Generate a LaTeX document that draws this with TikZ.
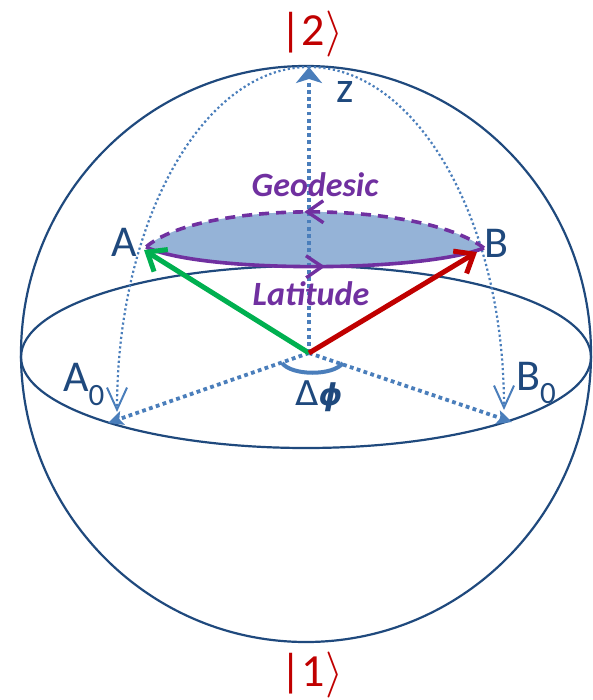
\RequirePackage{fix-cm}
\documentclass[tikz,border=0pt]{standalone}
\usepackage{fontspec}
\setmainfont{Carlito}
\newfontfamily\phifont{DejaVu Sans}
\usepackage{amsmath}
\usetikzlibrary{arrows.meta,decorations.markings}
\definecolor{sph}{RGB}{31,73,125}
\definecolor{axb}{RGB}{74,126,187}
\definecolor{lensc}{RGB}{149,179,215}
\definecolor{purp}{RGB}{112,48,160}
\definecolor{grn}{RGB}{0,176,80}
\definecolor{rd}{RGB}{192,0,0}
\tikzset{
 sphl/.style={draw=sph, line width=2.2pt},
 merid/.style={draw=axb, line width=2.2pt, dash pattern=on 2.2pt off 2.6pt, -{Straight Barb[length=22pt,width=20pt,line width=2pt]}},
 axdot/.style={draw=axb, line width=3.8pt, dash pattern=on 3.8pt off 3.4pt},
 vec/.style={line width=5pt, -{Straight Barb[length=16pt,width=26pt,line width=5pt]}},
 lbl/.style={text=sph, inner sep=0pt, anchor=base, font=\fontsize{44}{44}\selectfont},
 purpl/.style={draw=purp, line width=3.6pt},
 ket/.style={text=rd, inner sep=0pt, anchor=base, font=\fontsize{46}{46}\selectfont},
 itl/.style={text=purp, inner sep=0pt, anchor=base, font=\fontsize{34}{34}\selectfont\bfseries\itshape},
 midarrow/.style={postaction={decorate}, decoration={markings, mark=at position #1 with {\arrow{Straight Barb[length=16pt,width=22pt,line width=3.4pt]}}}},
}
\begin{document}
\begin{tikzpicture}[x=1pt,y=-1pt]
\useasboundingbox (0,0) rectangle (592,700);
% key points
\coordinate (C) at (306,354);
\coordinate (E) at (306,357);
\coordinate (O) at (309,353);
\coordinate (top) at (309,67);
\coordinate (A0t) at (108,423);
\coordinate (B0t) at (512,422);
\coordinate (A0v) at (117,412);
\coordinate (B0v) at (504,410);
\coordinate (A) at (146,247);
\coordinate (B) at (484,248);
\coordinate (Av) at (144,250);
\coordinate (Bv) at (477,252);
\coordinate (phiL) at (282,363);
\coordinate (phiR) at (343,363);
% sphere and equator
\draw[sphl] (C) ellipse [x radius=285, y radius=288];
\draw[sphl] (E) ellipse [x radius=285, y radius=91];
% lens
\fill[lensc] (A) .. controls (200,200) and (420,200) .. (B) .. controls (420,273) and (200,273) .. (A) -- cycle;
% meridians
\draw[merid] (top) .. controls +(-106,0) and +(0,-190.5) .. (A0v);
\draw[merid] (top) .. controls +(107.7,0) and +(0,-189.4) .. (B0v);
% axes
\draw[axdot, -{Stealth[length=16pt,width=26pt,inset=4pt]}] (O) -- (top);
\draw[axdot, -{Stealth[length=15pt,width=14pt,inset=3pt]}] (O) -- (A0t);
\draw[axdot, -{Stealth[length=15pt,width=14pt,inset=3pt]}] (O) -- (B0t);
\draw[draw=axb, line width=4pt] (phiL) .. controls (292,376) and (333,376) .. (phiR);
% lens borders
\draw[purpl, dash pattern=on 10pt off 7pt, midarrow=0.53] (B) .. controls (420,200) and (200,200) .. (A);
\draw[purpl, midarrow=0.53] (A) .. controls (200,273) and (420,273) .. (B);
% vectors
\draw[vec, draw=grn] (O) -- (Av);
\draw[vec, draw=rd] (O) -- (Bv);
% labels
\node[ket] (k2) at (312,46) {|2$\rangle$};
\node[ket] (k1) at (312,686) {|1$\rangle$};
\node[lbl] (lz) at (345,103) {z};
\node[lbl] (lA) at (124,257) {A};
\node[lbl] (lB) at (496,258) {B};
\node[lbl, anchor=base west] (lA0) at (63,391) {A\raisebox{-14pt}{\fontsize{31}{31}\selectfont 0}};
\node[lbl, anchor=base west] (lB0) at (516,390) {B\raisebox{-13pt}{\fontsize{31}{31}\selectfont 0}};
\node[itl] (geo) at (315,197) {Geodesic};
\node[itl] (lat) at (311,305) {Latitude};
\node[lbl] (dphi) at (319,405) {{\phifont\fontsize{34}{34}\selectfont\symbol{"0394}}{\phifont\fontsize{30}{30}\selectfont\bfseries\itshape\symbol{"03D5}}};
\end{tikzpicture}
\end{document}
